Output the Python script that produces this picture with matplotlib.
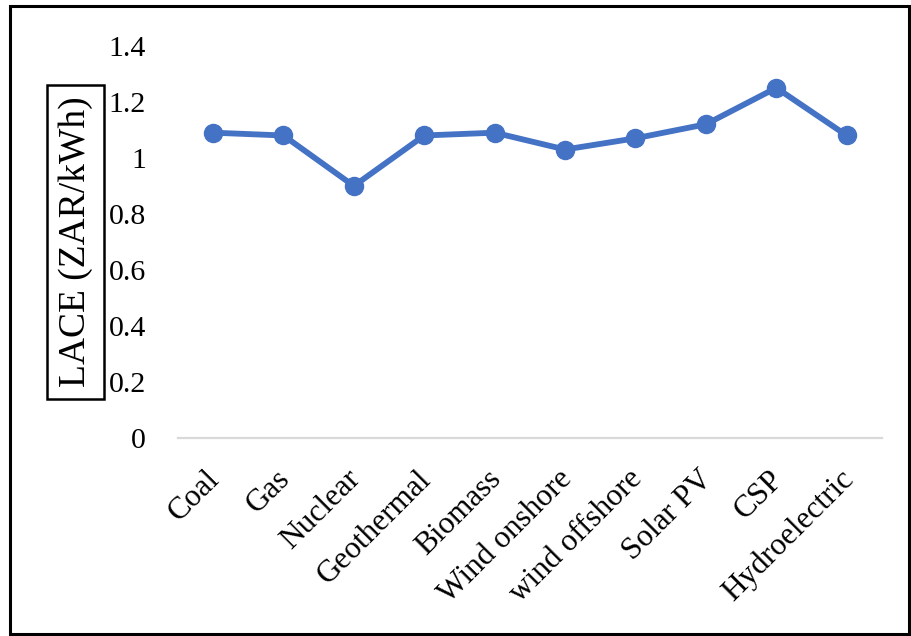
import matplotlib.pyplot as plt
import matplotlib.transforms as mtransforms
from matplotlib.patches import Rectangle

categories = ["Coal", "Gas", "Nuclear", "Geothermal", "Biomass", "Wind onshore",
              "wind offshore", "Solar PV", "CSP", "Hydroelectric"]
lace = [1.09, 1.08, 0.90, 1.08, 1.09, 1.03, 1.07, 1.12, 1.25, 1.08]
yticks = [0, 0.2, 0.4, 0.6, 0.8, 1, 1.2, 1.4]
ytick_labels = ["0", "0.2", "0.4", "0.6", "0.8", "1", "1.2", "1.4"]

plt.rcParams['font.family'] = ['Liberation Serif', 'DejaVu Serif']

fig = plt.figure(figsize=(9.12, 6.36), dpi=100)
ax = fig.add_axes([0.195, 0.311, 0.772, 0.617])

x = range(len(categories))
ax.plot(x, lace, color="#4472C4", linewidth=4.2, marker="o", markersize=13)

ax.set_xlim(-0.5, len(categories) - 0.5)
ax.set_ylim(0, 1.4)
ax.set_yticks(yticks)
ax.set_yticklabels(ytick_labels, fontsize=21.5)
ax.set_xticks(list(x))
ax.set_xticklabels(categories, fontsize=22.5, rotation=45, ha="right",
                   rotation_mode="anchor")
ax.tick_params(axis="both", length=0)
ax.tick_params(axis="y", pad=23)
ax.tick_params(axis="x", pad=19)

# nudge rotated labels a bit to the left
shift = mtransforms.ScaledTranslation(-8 / 100, 0, fig.dpi_scale_trans)
for lbl in ax.get_xticklabels():
    lbl.set_transform(lbl.get_transform() + shift)

for side in ["top", "right", "left"]:
    ax.spines[side].set_visible(False)
ax.spines["bottom"].set_color("#D9D9D9")
ax.spines["bottom"].set_linewidth(1.6)

ax.set_ylabel("LACE (ZAR/kWh)", fontsize=27, labelpad=11,
              bbox=dict(facecolor="white", edgecolor="black", linewidth=1.8, pad=8))

# outer border
fig.patches.append(Rectangle((0.011, 0.003), 0.986, 0.988, transform=fig.transFigure,
                             fill=False, edgecolor="black", linewidth=2.2))

fig.savefig("out.png", dpi=100)
